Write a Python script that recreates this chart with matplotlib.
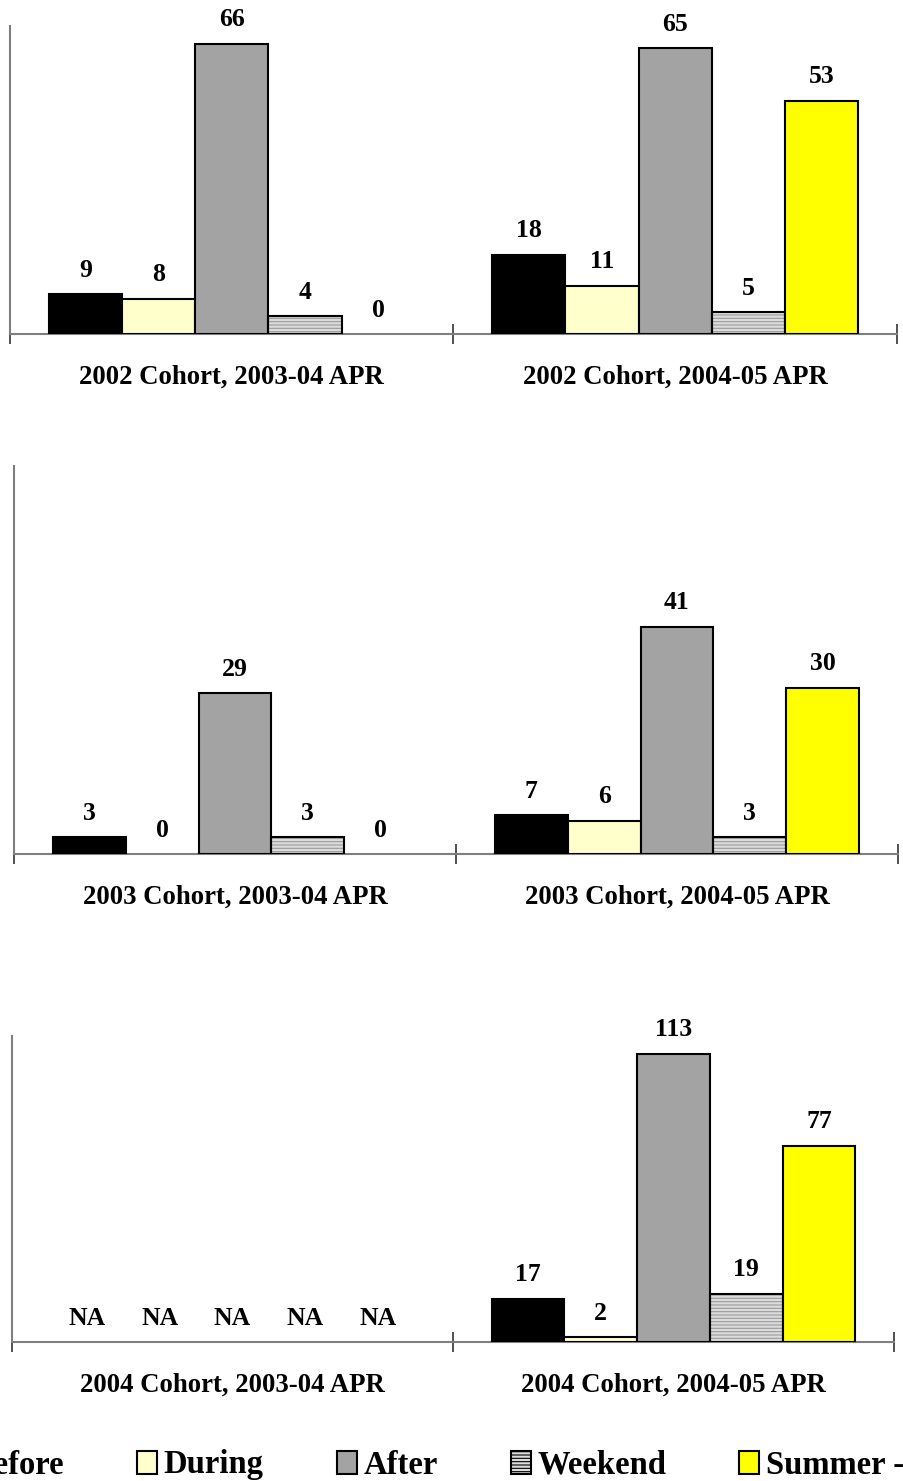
import numpy as np
from matplotlib import pyplot as plt
from matplotlib.patches import Patch

W, H = 904, 1481
NA = np.nan

# each row: two categories (2003-04 APR, 2004-05 APR)
row_titles = [
    ["2002 Cohort, 2003-04 APR", "2002 Cohort, 2004-05 APR"],
    ["2003 Cohort, 2003-04 APR", "2003 Cohort, 2004-05 APR"],
    ["2004 Cohort, 2003-04 APR", "2004 Cohort, 2004-05 APR"],
]
series_names = ["Before", "During", "After", "Weekend", "Summer -"]
before_vals = [[9, 18], [3, 7], [NA, 17]]
during_vals = [[8, 11], [0, 6], [NA, 2]]
after_vals = [[66, 65], [29, 41], [NA, 113]]
weekend_vals = [[4, 5], [3, 3], [NA, 19]]
summer_vals = [[0, 53], [0, 30], [NA, 77]]
row_ymax = [70, 70, 120]

colors = ["#000000", "#ffffcc", "#a3a3a3", "#dcdcdc", "#ffff00"]
hatches = [None, None, None, "-----", None]

# pixel boxes: left, right, top, baseline
boxes = [(10, 897, 26, 334), (14, 898, 466, 854), (12, 894, 1036, 1342)]

plt.rcParams["font.family"] = ["Liberation Serif", "DejaVu Serif"]
plt.rcParams["font.weight"] = "bold"
plt.rcParams["hatch.linewidth"] = 0.8

fig = plt.figure(figsize=(W / 100, H / 100), dpi=100)

bar_w = 0.165
offsets = (np.arange(5) - 2) * bar_w
x = np.arange(2)

for r in range(3):
    x0, x1, yt, yb = boxes[r]
    ax = fig.add_axes([x0 / W, 1 - yb / H, (x1 - x0) / W, (yb - yt) / H])
    data = [before_vals[r], during_vals[r], after_vals[r], weekend_vals[r], summer_vals[r]]
    for k in range(5):
        vals = np.array(data[k], dtype=float)
        heights = np.nan_to_num(vals)
        lw = np.where(heights > 0, 1.5, 0)
        if hatches[k]:
            ax.bar(x + offsets[k], heights, bar_w, color=colors[k], edgecolor="#9a9a9a",
                   hatch=hatches[k], linewidth=0, zorder=2)
            ax.bar(x + offsets[k], heights, bar_w, fill=False, edgecolor="black",
                   linewidth=lw, zorder=3)
        else:
            ax.bar(x + offsets[k], heights, bar_w, color=colors[k], edgecolor="black",
                   linewidth=lw, zorder=3)
        for i, v in enumerate(vals):
            txt = "NA" if np.isnan(v) else f"{int(v)}"
            ax.annotate(txt, (x[i] + offsets[k], heights[i]), xytext=(0, 12.5),
                        textcoords="offset points", ha="center", va="baseline",
                        fontsize=18.5, fontweight="bold")

    for i in range(2):
        ax.annotate(row_titles[r][i], (x[i], 0), xytext=(0, -31),
                    textcoords="offset points", ha="center", va="center",
                    fontsize=19.3, fontweight="bold", annotation_clip=False)
    ax.set_xlim(-0.5, 1.5)
    ax.set_ylim(0, row_ymax[r])
    ax.set_xticks([-0.5, 0.5, 1.5])
    ax.set_xticklabels([])
    ax.tick_params(axis="x", direction="inout", length=14, width=1.2, color="#333333")
    ax.set_yticks([])
    for s in ["top", "right"]:
        ax.spines[s].set_visible(False)
    for s in ["left", "bottom"]:
        ax.spines[s].set_color("#7f7f7f")
        ax.spines[s].set_linewidth(1.5)

handles = [Patch(facecolor=colors[k], edgecolor="black", hatch=hatches[k], linewidth=1.5)
           for k in range(5)]
fig.legend(handles, series_names, loc="center left", bbox_to_anchor=(-70 / W, 1 - 1465 / H),
           ncol=5, frameon=False, borderpad=0, handlelength=0.6, handleheight=0.7,
           handletextpad=0.2, columnspacing=2.25,
           prop={"size": 23.5, "weight": "bold"})

fig.savefig("out.png", dpi=100)
plt.close()
